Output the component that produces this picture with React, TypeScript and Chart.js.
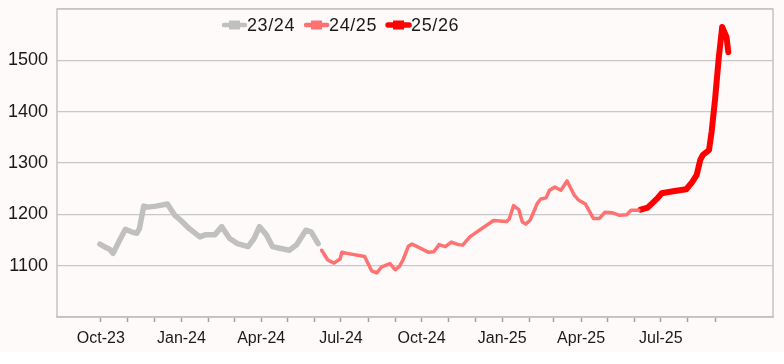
import React, { useEffect, useRef } from 'react';
import { Chart, registerables } from 'chart.js';

Chart.register(...registerables);

// ---- data ----
const seriesLabels = ['23/24', '24/25', '25/26'];
const seriesColors = ['#C0C0C0', '#FF7272', '#FF0000'];
const seriesWidths = [5.5, 3.5, 6];

const dates2324 = [
  '2023-09-30', '2023-10-05', '2023-10-11', '2023-10-15', '2023-10-22', '2023-10-29',
  '2023-11-05', '2023-11-11', '2023-11-14', '2023-11-19', '2023-11-24', '2023-12-03',
  '2023-12-16', '2023-12-24', '2024-01-01', '2024-01-10', '2024-01-22', '2024-01-28',
  '2024-02-08', '2024-02-16', '2024-02-25', '2024-03-05', '2024-03-17', '2024-03-24',
  '2024-03-30', '2024-04-07', '2024-04-14', '2024-04-22', '2024-05-03', '2024-05-11',
  '2024-05-22', '2024-05-28', '2024-06-05',
];
const values2324 = [
  1142, 1137, 1132, 1124, 1148, 1171,
  1166, 1163, 1172, 1216, 1214, 1216,
  1220, 1199, 1187, 1172, 1156, 1160,
  1160, 1176, 1153, 1143, 1137, 1153,
  1176, 1160, 1137, 1134, 1130, 1140,
  1169, 1166, 1143,
];

const dates2425 = [
  '2024-06-09', '2024-06-16', '2024-06-23', '2024-06-30', '2024-07-02', '2024-07-08',
  '2024-07-28', '2024-08-05', '2024-08-11', '2024-08-16', '2024-08-26', '2024-09-01',
  '2024-09-06', '2024-09-10', '2024-09-16', '2024-09-20', '2024-09-26', '2024-10-09',
  '2024-10-15', '2024-10-21', '2024-10-28', '2024-11-04', '2024-11-12', '2024-11-17',
  '2024-11-25', '2024-12-22', '2025-01-06', '2025-01-09', '2025-01-14', '2025-01-20',
  '2025-01-24', '2025-01-28', '2025-02-02', '2025-02-10', '2025-02-14', '2025-02-20',
  '2025-02-24', '2025-03-02', '2025-03-09', '2025-03-16', '2025-03-24', '2025-03-29',
  '2025-04-06', '2025-04-15', '2025-04-22', '2025-04-28', '2025-05-07', '2025-05-15',
  '2025-05-23', '2025-05-28', '2025-06-06',
];
const values2425 = [
  1130, 1111, 1105, 1113, 1126, 1124,
  1118, 1090, 1086, 1097, 1104, 1092,
  1099, 1112, 1138, 1142, 1137, 1126,
  1127, 1141, 1137, 1146, 1141, 1140,
  1156, 1188, 1186, 1191, 1217, 1209,
  1185, 1181, 1189, 1221, 1230, 1232,
  1247, 1253, 1247, 1265, 1238, 1228,
  1220, 1192, 1192, 1204, 1203, 1198,
  1199, 1208, 1208,
];

const dates2526 = [
  '2025-06-08', '2025-06-16', '2025-06-27', '2025-07-02', '2025-07-15', '2025-07-30',
  '2025-08-05', '2025-08-11', '2025-08-15', '2025-08-18', '2025-08-25', '2025-08-28',
  '2025-09-01', '2025-09-05', '2025-09-09', '2025-09-14', '2025-09-16',
];
const values2526 = [
  1209, 1213, 1231, 1241, 1245, 1249,
  1261, 1277, 1306, 1316, 1325, 1361,
  1426, 1503, 1565, 1545, 1516,
];

const xAxisStart = '2023-08-12';
const xAxisEnd = '2025-11-06';
const monthTicks = [
  '2023-10-01', '2023-11-01', '2023-12-01', '2024-01-01', '2024-02-01', '2024-03-01',
  '2024-04-01', '2024-05-01', '2024-06-01', '2024-07-01', '2024-08-01', '2024-09-01',
  '2024-10-01', '2024-11-01', '2024-12-01', '2025-01-01', '2025-02-01', '2025-03-01',
  '2025-04-01', '2025-05-01', '2025-06-01', '2025-07-01', '2025-08-01', '2025-09-01',
];
const labeledTicks = ['2023-10-01', '2024-01-01', '2024-04-01', '2024-07-01', '2024-10-01', '2025-01-01', '2025-04-01', '2025-07-01'];
const labeledTickText = ['Oct-23', 'Jan-24', 'Apr-24', 'Jul-24', 'Oct-24', 'Jan-25', 'Apr-25', 'Jul-25'];

const yMin = 1000;
const yMax = 1600;
const yStep = 100;
const yShownTicks = [1100, 1200, 1300, 1400, 1500];

// ---- helpers ----
const BASE = Date.UTC(2023, 9, 1);
const dayOf = (s: string) => {
  const [y, m, d] = s.split('-').map(Number);
  return Math.round((Date.UTC(y, m - 1, d) - BASE) / 86400000);
};
const toPoints = (ds: string[], vs: number[]) => ds.map((d, i) => ({ x: dayOf(d), y: vs[i] }));

const FONT = "'Liberation Sans', Arial, sans-serif";

const bgPlugin = {
  id: 'bg',
  beforeDraw(chart: any) {
    const { ctx, width, height } = chart;
    ctx.save();
    ctx.fillStyle = '#FFFFFF';
    ctx.fillRect(0, 0, width, height);
    ctx.fillStyle = '#FFFAFA';
    ctx.fillRect(0, 0, width, 352);
    ctx.restore();
  },
  beforeDatasetsDraw(chart: any) {
    const { ctx, chartArea } = chart;
    ctx.save();
    ctx.strokeStyle = '#C4C4C4';
    ctx.lineWidth = 1.5;
    ctx.strokeRect(chartArea.left, chartArea.top, chartArea.right - chartArea.left, chartArea.bottom - chartArea.top);
    ctx.restore();
  },
};

const legendPlugin = {
  id: 'customLegend',
  afterDraw(chart: any) {
    const { ctx } = chart;
    ctx.save();
    ctx.font = `18px ${FONT}`;
    ctx.textBaseline = 'middle';
    ctx.textAlign = 'left';
    try { (ctx as any).letterSpacing = '0.6px'; } catch (e) { /* ignore */ }
    let x = 222;
    const y = 25;
    chart.data.datasets.forEach((ds: any, i: number) => {
      ctx.strokeStyle = ds.borderColor;
      ctx.fillStyle = ds.borderColor;
      ctx.lineWidth = i === 2 ? 5.5 : 4.5;
      ctx.lineCap = 'round';
      ctx.beginPath();
      ctx.moveTo(x + 2, y);
      ctx.lineTo(x + 23, y);
      ctx.stroke();
      ctx.fillRect(x + 7, y - 4.5, 11, 9);
      ctx.fillStyle = '#1A1A1A';
      ctx.fillText(ds.label, x + 25, y + 1);
      const w = ctx.measureText(ds.label).width;
      x += 25 + w + 9;
    });
    ctx.restore();
  },
};

export default function App() {
  const ref = useRef<HTMLCanvasElement | null>(null);

  useEffect(() => {
    if (!ref.current) return;
    const seriesDates = [dates2324, dates2425, dates2526];
    const seriesValues = [values2324, values2425, values2526];
    const labelMap = new Map<number, string>();
    labeledTicks.forEach((d, i) => labelMap.set(dayOf(d), labeledTickText[i]));

    const chart = new Chart(ref.current, {
      type: 'line',
      data: {
        datasets: seriesLabels.map((label, i) => ({
          label,
          data: toPoints(seriesDates[i], seriesValues[i]),
          borderColor: seriesColors[i],
          backgroundColor: seriesColors[i],
          borderWidth: seriesWidths[i],
          pointRadius: 0,
          tension: 0,
          borderJoinStyle: 'round',
          borderCapStyle: 'round',
          fill: false,
        })),
      },
      options: {
        animation: false,
        responsive: false,
        events: [],
        layout: { padding: { top: 9, right: 11, left: 0, bottom: 0 } },
        plugins: {
          legend: { display: false },
          tooltip: { enabled: false },
        },
        scales: {
          x: {
            type: 'linear',
            min: dayOf(xAxisStart),
            max: dayOf(xAxisEnd),
            afterBuildTicks: (scale: any) => {
              scale.ticks = monthTicks.map((d) => ({ value: dayOf(d) }));
            },
            afterFit: (scale: any) => {
              scale.height = 47;
              scale.paddingLeft = 0;
              scale.paddingRight = 0;
            },
            ticks: {
              autoSkip: false,
              maxRotation: 0,
              padding: 7,
              color: '#1A1A1A',
              font: { family: FONT, size: 16 },
              callback: (v: any) => labelMap.get(Number(v)) ?? '',
            },
            grid: {
              drawOnChartArea: false,
              drawTicks: true,
              tickLength: 5,
              tickColor: '#A0A0A0',
              tickWidth: 1.5,
            },
            border: { display: true, color: '#B8B8B8', width: 1.5 },
          },
          y: {
            min: yMin,
            max: yMax,
            afterFit: (scale: any) => {
              scale.width = 57;
              scale.paddingTop = 0;
              scale.paddingBottom = 0;
            },
            ticks: {
              stepSize: yStep,
              padding: 9,
              color: '#1A1A1A',
              font: { family: FONT, size: 18 },
              callback: (v: any) => (yShownTicks.includes(Number(v)) ? String(v) : ''),
            },
            grid: {
              color: '#C8C8C8',
              lineWidth: 1.2,
              drawTicks: false,
            },
            border: { display: false },
          },
        },
      } as any,
      plugins: [bgPlugin, legendPlugin],
    });
    return () => chart.destroy();
  }, []);

  return (
    <div style={{ position: 'fixed', left: 0, top: 0, width: 784, height: 364 }}>
      <canvas ref={ref} width={784} height={364} style={{ display: 'block' }} />
    </div>
  );
}
